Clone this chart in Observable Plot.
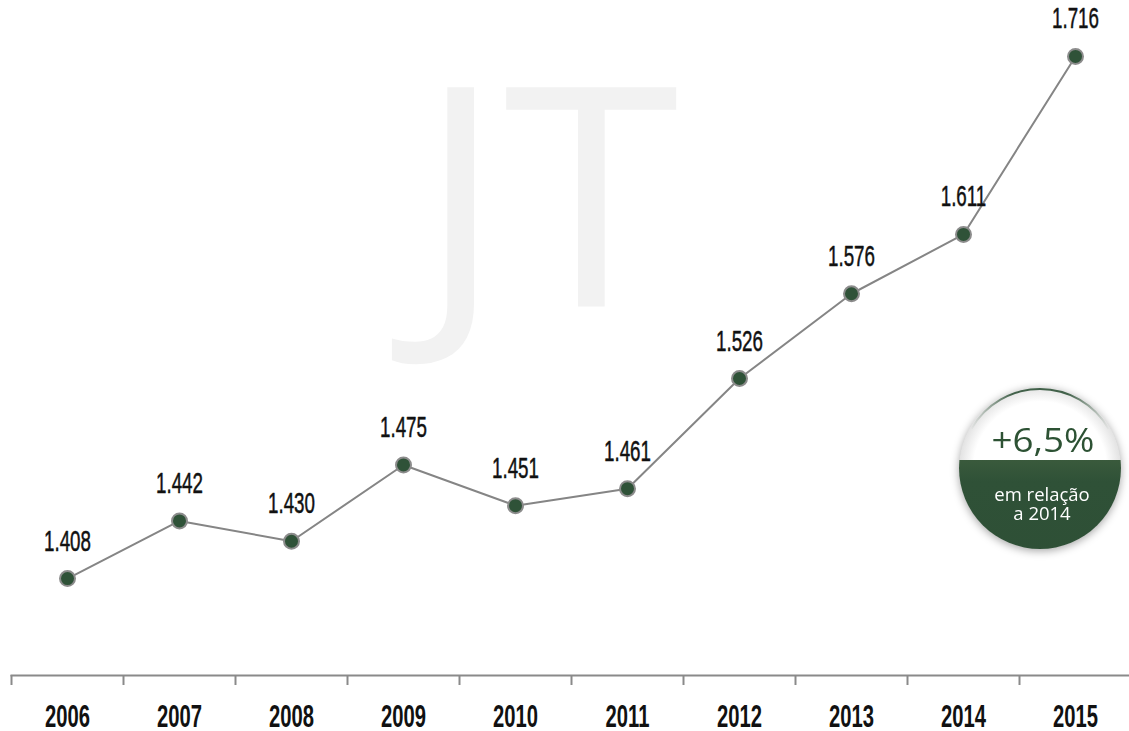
<!DOCTYPE html>
<html>
<head>
<meta charset="utf-8">
<script src="https://cdn.jsdelivr.net/npm/d3@7"></script>
<script src="https://cdn.jsdelivr.net/npm/@observablehq/plot@0.6"></script>
<style>
  html, body { margin: 0; padding: 0; background: #fff; }
  #wrap { position: relative; width: 1129px; height: 731px; overflow: hidden; }
  #badge { position: absolute; left: 949px; top: 377px; filter: drop-shadow(0 2px 4px rgba(0,0,0,0.35)); }
</style>
</head>
<body>
<div id="wrap"></div>
<script>
// ---- data ----
const years = ["2006","2007","2008","2009","2010","2011","2012","2013","2014","2015"];
const values = [1408, 1442, 1430, 1475, 1451, 1461, 1526, 1576, 1611, 1716];
const badgeValue = "+6,5%";
const badgeLines = ["em relação", "a 2014"];
const watermark = "JT";

const data = years.map((y, i) => ({year: y, value: values[i]}));
const pt = d3.formatLocale({decimal: ",", thousands: ".", grouping: [3], currency: ["", ""]});
const fmt = pt.format(",");

const W = 1129, H = 731;
const xRange = [11, 1131];
const half = (xRange[1] - xRange[0]) / years.length / 2;
const face = "'Liberation Sans', Arial, sans-serif";
const green = "#2f5238";
const gray = "#8a8a8a";

const chart = Plot.plot({
  width: W,
  height: H,
  marginLeft: 11,
  marginRight: 0,
  marginTop: 0,
  marginBottom: 56,
  style: {background: "transparent", overflow: "visible"},
  x: {type: "point", domain: years, range: xRange, padding: 0.5, label: null},
  y: {domain: [1350.8, 1749], axis: null},
  marks: [
    Plot.text([watermark], {frameAnchor: "top-left", dx: 537, dy: 306, text: d => d,
      textAnchor: "middle", lineAnchor: "bottom", fontSize: 307, fill: "#f2f2f2",
      fontFamily: "'Open Sans', sans-serif"}),
    Plot.frame({anchor: "bottom", stroke: gray, strokeWidth: 2}),
    Plot.axisX({tickSize: 10, tickFormat: () => "", dx: -half, stroke: gray, strokeWidth: 2, strokeOpacity: 1}),
    Plot.axisX({tickSize: 0, tickPadding: 29, fontSize: 32, fontWeight: "bold",
      fontFamily: face, fill: "#111", label: null}),
    Plot.line(data, {x: "year", y: "value", stroke: "#858585", strokeWidth: 2}),
    Plot.dot(data, {x: "year", y: "value", r: 7.5, fill: green, stroke: "#8c8c8c", strokeWidth: 2}),
    Plot.text(data, {x: "year", y: "value", text: d => fmt(d.value), dy: -28, lineAnchor: "bottom",
      fontSize: 30, fontFamily: face, fill: "#111", stroke: "#111", strokeWidth: 0.5})
  ]
});

const wrap = document.getElementById("wrap");
wrap.appendChild(chart);

// condense labels horizontally to mimic the narrow typeface
function condense(texts, sample, target) {
  const ref = texts.find(t => t.textContent.trim() === sample) || texts[0];
  if (!ref) return;
  const k = target / ref.getComputedTextLength();
  texts.forEach(t => {
    const l = t.getComputedTextLength();
    t.setAttribute("textLength", (l * k).toFixed(2));
    t.setAttribute("lengthAdjust", "spacingAndGlyphs");
  });
}
const allTexts = Array.from(chart.querySelectorAll("text"));
condense(allTexts.filter(t => /^\d\.\d{3}$/.test(t.textContent.trim())), "1.408", 47);
condense(allTexts.filter(t => /^\d{4}$/.test(t.textContent.trim())), "2006", 45);
condense(allTexts.filter(t => t.textContent.trim() === watermark), watermark, 262);

// badge
const bs = 182, r = 81, c = bs / 2;
const badge = d3.create("svg").attr("id", "badge").attr("width", bs).attr("height", bs);
const defs = badge.append("defs");
defs.append("clipPath").attr("id", "bclip").append("circle").attr("cx", c).attr("cy", c).attr("r", r);
const rg = defs.append("radialGradient").attr("id", "rim");
rg.append("stop").attr("offset", "82%").attr("stop-color", "#fff");
rg.append("stop").attr("offset", "100%").attr("stop-color", "#e2e2e2");
const gg = defs.append("linearGradient").attr("id", "gb").attr("x1", 0).attr("y1", 0).attr("x2", 0).attr("y2", 1);
gg.append("stop").attr("offset", "0%").attr("stop-color", "#3a5a3c");
gg.append("stop").attr("offset", "12%").attr("stop-color", "#2f5137");
gg.append("stop").attr("offset", "100%").attr("stop-color", "#2d4e35");
const ag = defs.append("linearGradient").attr("id", "arcg").attr("x1", 0).attr("y1", 0).attr("x2", 1).attr("y2", 0);
ag.append("stop").attr("offset", "0%").attr("stop-color", "#2f5238").attr("stop-opacity", 0);
ag.append("stop").attr("offset", "30%").attr("stop-color", "#2f5238").attr("stop-opacity", 0.9);
ag.append("stop").attr("offset", "70%").attr("stop-color", "#2f5238").attr("stop-opacity", 0.9);
ag.append("stop").attr("offset", "100%").attr("stop-color", "#2f5238").attr("stop-opacity", 0);
const g = badge.append("g").attr("clip-path", "url(#bclip)");
g.append("circle").attr("cx", c).attr("cy", c).attr("r", r).attr("fill", "url(#rim)");
const split = c - 8;
g.append("rect").attr("x", 0).attr("y", split).attr("width", bs).attr("height", bs).attr("fill", "url(#gb)");
// thin green arc at top
badge.append("path")
  .attr("d", d3.arc()({innerRadius: r - 3, outerRadius: r - 1, startAngle: -1.05, endAngle: 1.05}))
  .attr("transform", `translate(${c},${c})`).attr("fill", "url(#arcg)");
const vt = badge.append("text").attr("x", c + 3).attr("y", c - 16).attr("text-anchor", "middle")
  .attr("font-family", "'Open Sans', sans-serif").attr("font-size", 33).attr("fill", "#2d5234")
  .text(badgeValue);
wrap.appendChild(badge.node());
vt.attr("textLength", 103).attr("lengthAdjust", "spacingAndGlyphs");
badgeLines.forEach((s, i) => {
  badge.append("text").attr("x", c + 2).attr("y", c + 33 + i * 19).attr("text-anchor", "middle")
    .attr("font-family", "'Open Sans', sans-serif").attr("font-size", 18.5).attr("fill", "#fff")
    .text(s);
});
</script>
</body>
</html>
